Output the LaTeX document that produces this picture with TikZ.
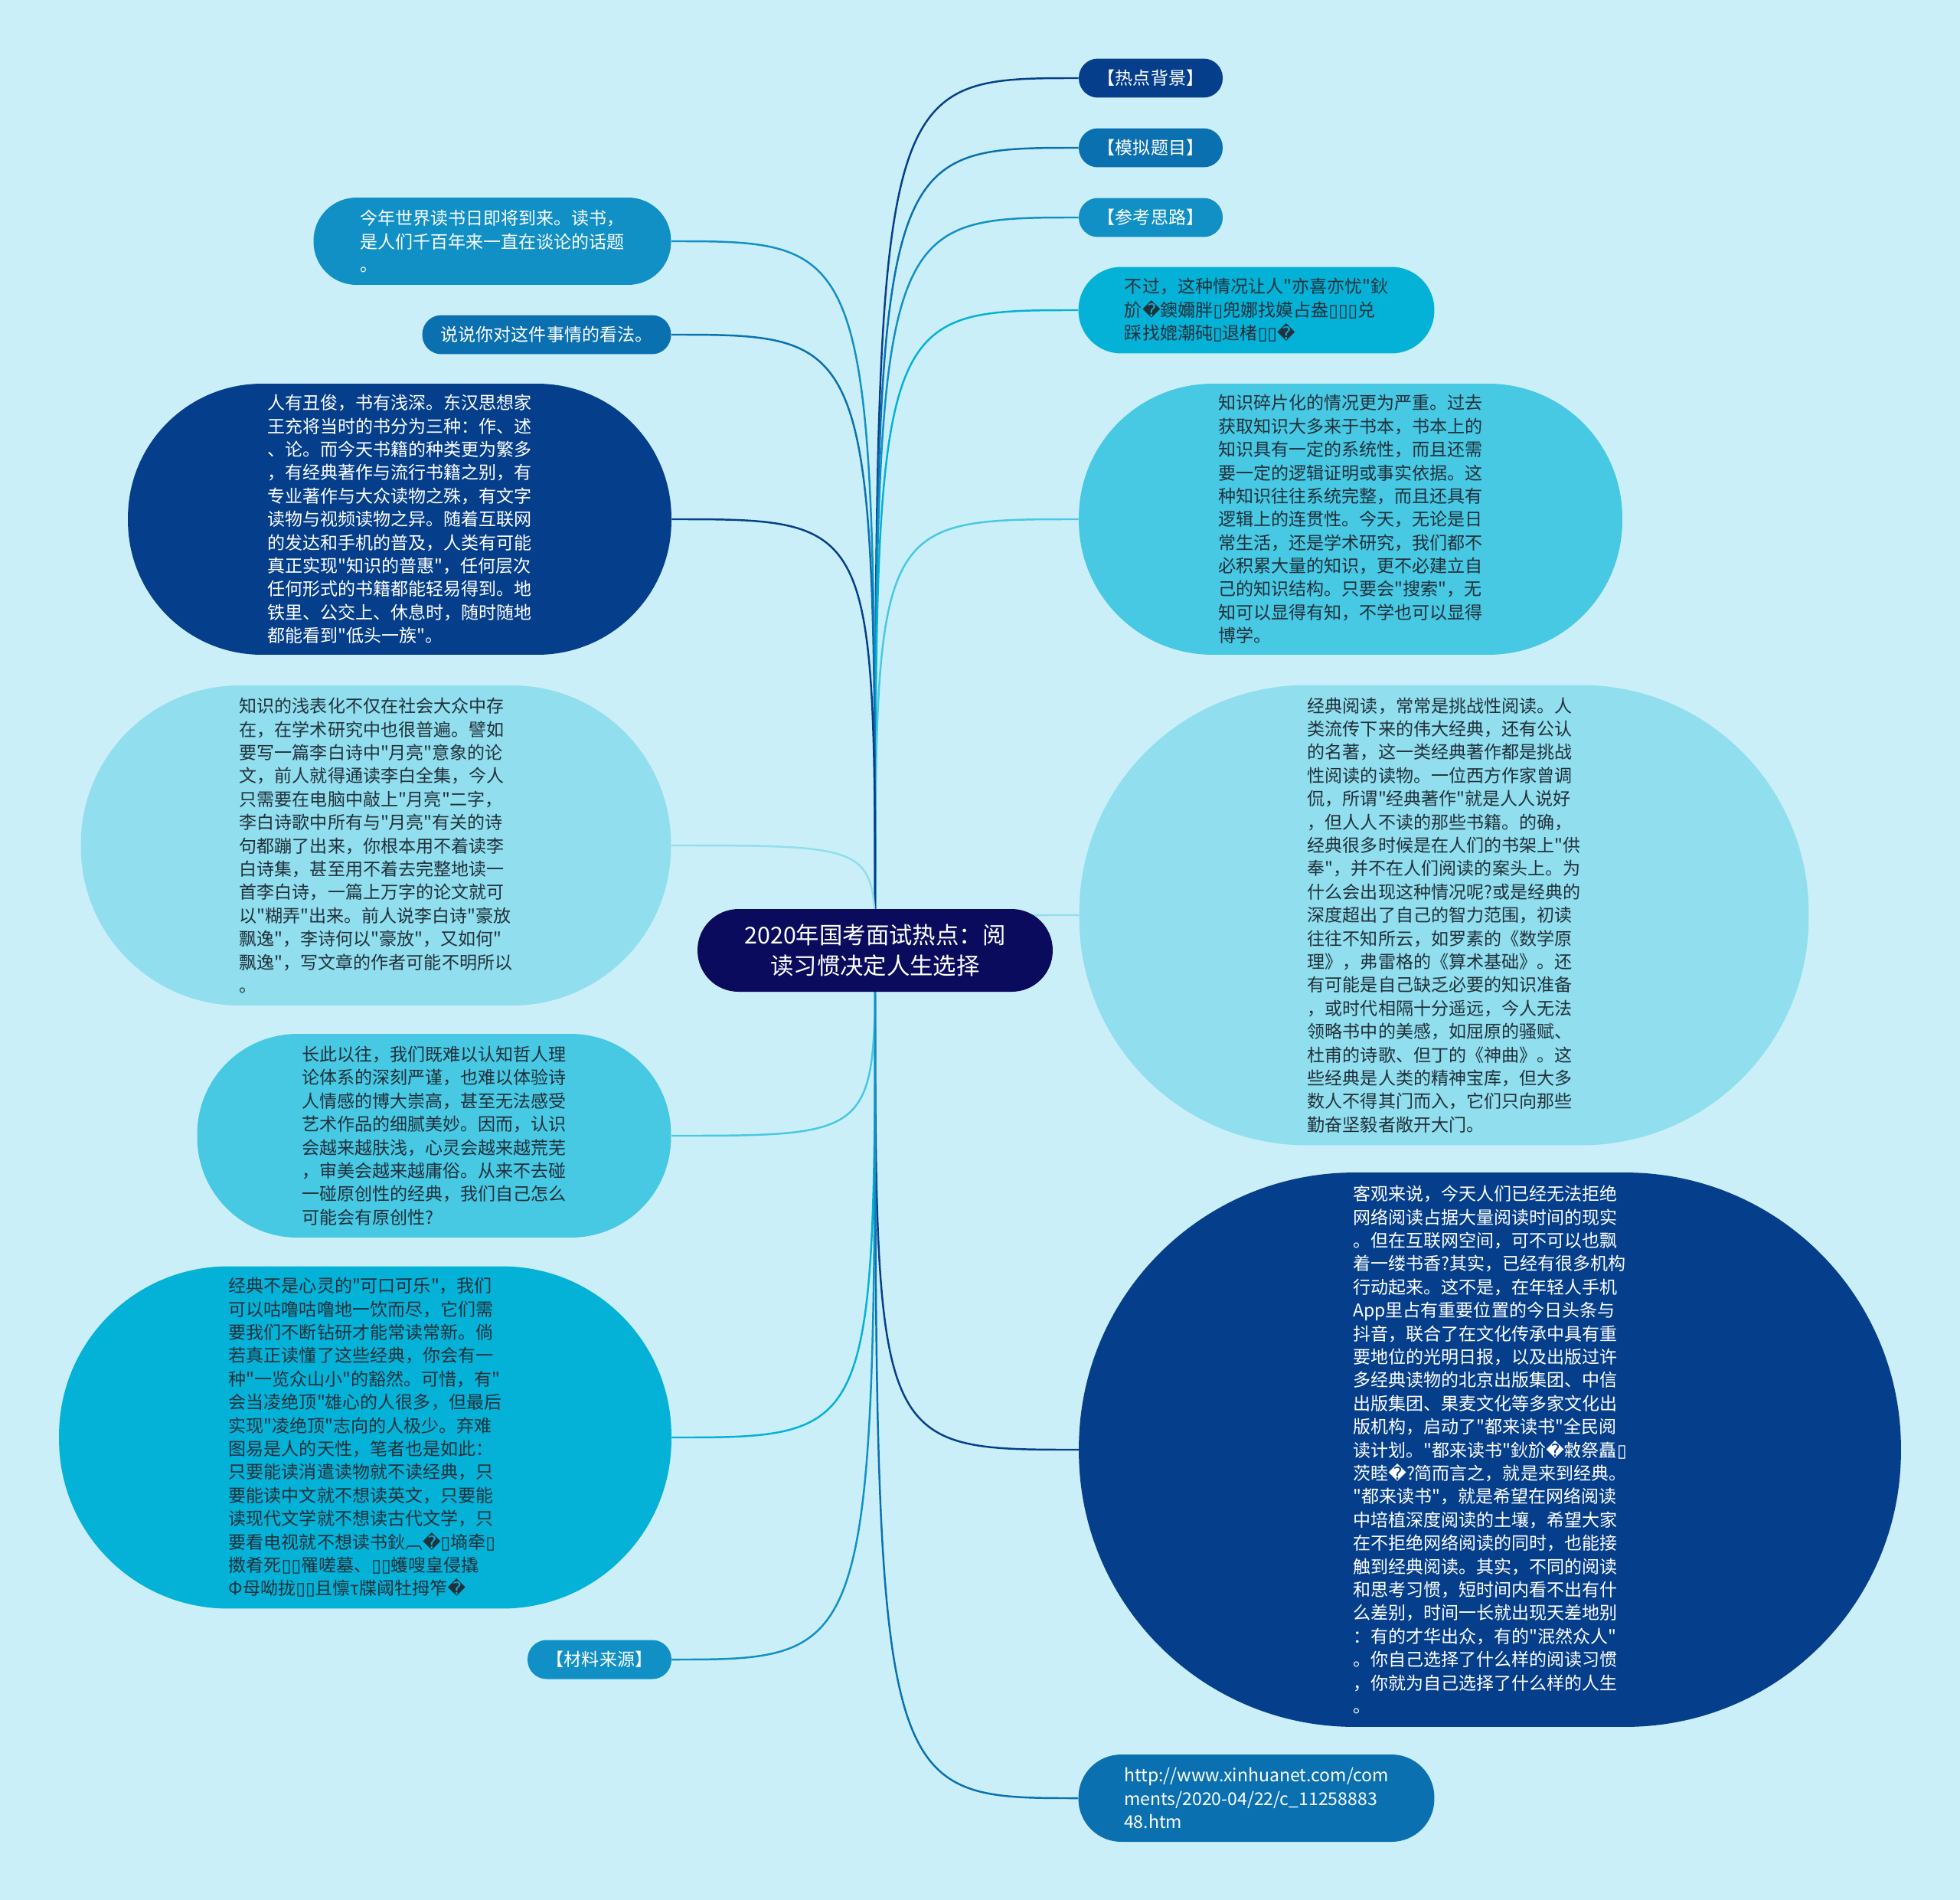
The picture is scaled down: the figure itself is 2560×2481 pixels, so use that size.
\documentclass[tikz,border=0pt]{standalone}
\usepackage{fontspec}
\setmainfont{Noto Sans CJK SC}[Ligatures=TeXOff]
\newfontfamily\symfont{DejaVu Sans}
\newcommand\rp{{\symfont �}}
\newcommand\tf{{\symfont ▯}}

\definecolor{paper}{HTML}{CBEFF8}
\definecolor{rootblue}{HTML}{0A0B5C}
\definecolor{navy}{HTML}{053F8B}
\definecolor{midblue}{HTML}{0A70B0}
\definecolor{skyblue}{HTML}{1190C5}
\definecolor{cyanA}{HTML}{04B1D7}
\definecolor{cyanB}{HTML}{47C8E3}
\definecolor{pale}{HTML}{90DEEE}
\definecolor{ink}{HTML}{22303A}

\newcommand\bodyfont{\fontsize{13.1pt}{17.3pt}\selectfont}
\newcommand\titlefont{\fontsize{17.3pt}{23.2pt}\selectfont}

\pgfdeclarelayer{back}
\pgfdeclarelayer{links}
\pgfsetlayers{back,links,main}

\begin{document}
\begin{tikzpicture}[
        x=0.02cm, y=-0.02cm,
        bubble/.style={inner sep=0pt, align=left, font=\bodyfont},
        tag/.style={bubble, minimum width=3.76cm, minimum height=1.02cm,
                    rounded corners=0.5cm, text=white},
        link/.style={line width=1.4pt}
    ]

    % Paper
    \begin{pgfonlayer}{back}
        \fill[paper] (0,0) rectangle (2560,2481);
    \end{pgfonlayer}
    \useasboundingbox (0,0) rectangle (2560,2481);

    % Central topic
    \node[bubble, fill=rootblue, text=white, font=\titlefont, align=center,
          minimum width=9.28cm, minimum height=2.16cm, rounded corners=1.07cm]
        (root) at (1143,1241) {2020年国考面试热点：阅\\读习惯决定人生选择};

    % Right branch
    \node[tag, fill=navy] (hot) at (1503,102) {【热点背景】};
    \node[tag, fill=midblue] (mock) at (1503,193) {【模拟题目】};
    \node[tag, fill=skyblue] (idea) at (1503,284) {【参考思路】};

    \node[bubble, fill=cyanA, text=ink, minimum width=9.3cm, minimum height=2.26cm,
          rounded corners=1.12cm] (but) at (1641,405) {%
        不过，这种情况让人"亦喜亦忧"鈥\\
        斺\rp 鐭嬭胖\tf 兜娜找嫫占盎\tf\tf\tf 兑\\
        踩找媲潮砘\tf 退楮\tf\tf\rp};

    \node[bubble, fill=cyanB, text=ink, minimum width=14.2cm, minimum height=7.08cm,
          rounded corners=3.5cm] (frag) at (1764,678) {%
        知识碎片化的情况更为严重。过去\\
        获取知识大多来于书本，书本上的\\
        知识具有一定的系统性，而且还需\\
        要一定的逻辑证明或事实依据。这\\
        种知识往往系统完整，而且还具有\\
        逻辑上的连贯性。今天，无论是日\\
        常生活，还是学术研究，我们都不\\
        必积累大量的知识，更不必建立自\\
        己的知识结构。只要会"搜索"，无\\
        知可以显得有知，不学也可以显得\\
        博学。};

    \node[bubble, fill=pale, text=ink, minimum width=19.06cm, minimum height=12.02cm,
          rounded corners=5.95cm] (classic) at (1886,1195) {%
        经典阅读，常常是挑战性阅读。人\\
        类流传下来的伟大经典，还有公认\\
        的名著，这一类经典著作都是挑战\\
        性阅读的读物。一位西方作家曾调\\
        侃，所谓"经典著作"就是人人说好\\
        ，但人人不读的那些书籍。的确，\\
        经典很多时候是在人们的书架上"供\\
        奉"，并不在人们阅读的案头上。为\\
        什么会出现这种情况呢?或是经典的\\
        深度超出了自己的智力范围，初读\\
        往往不知所云，如罗素的《数学原\\
        理》，弗雷格的《算术基础》。还\\
        有可能是自己缺乏必要的知识准备\\
        ，或时代相隔十分遥远，今人无法\\
        领略书中的美感，如屈原的骚赋、\\
        杜甫的诗歌、但丁的《神曲》。这\\
        些经典是人类的精神宝库，但大多\\
        数人不得其门而入，它们只向那些\\
        勤奋坚毅者敞开大门。};

    \node[bubble, fill=navy, text=white, minimum width=21.48cm, minimum height=14.48cm,
          rounded corners=7.2cm] (online) at (1946,1893) {%
        客观来说，今天人们已经无法拒绝\\
        网络阅读占据大量阅读时间的现实\\
        。但在互联网空间，可不可以也飘\\
        着一缕书香?其实，已经有很多机构\\
        行动起来。这不是，在年轻人手机\\
        App里占有重要位置的今日头条与\\
        抖音，联合了在文化传承中具有重\\
        要地位的光明日报，以及出版过许\\
        多经典读物的北京出版集团、中信\\
        出版集团、果麦文化等多家文化出\\
        版机构，启动了"都来读书"全民阅\\
        读计划。"都来读书"鈥斺\rp 敹祭矗\tf\\
        茨睦\rp ?简而言之，就是来到经典。\\
        "都来读书"，就是希望在网络阅读\\
        中培植深度阅读的土壤，希望大家\\
        在不拒绝网络阅读的同时，也能接\\
        触到经典阅读。其实，不同的阅读\\
        和思考习惯，短时间内看不出有什\\
        么差别，时间一长就出现天差地别\\
        ：有的才华出众，有的"泯然众人"\\
        。你自己选择了什么样的阅读习惯\\
        ，你就为自己选择了什么样的人生\\
        。};

    \node[bubble, fill=midblue, text=white, minimum width=9.3cm, minimum height=2.28cm,
          rounded corners=1.12cm] (url) at (1641,2348) {%
        http://www.xinhuanet.com/com\\
        ments/2020-04/22/c\_11258883\\
        48.htm};

    % Left branch
    \node[bubble, fill=skyblue, text=white, minimum width=9.34cm, minimum height=2.28cm,
          rounded corners=1.12cm] (worldday) at (643,315) {%
        今年世界读书日即将到来。读书，\\
        是人们千百年来一直在谈论的话题\\
        。};

    \node[bubble, fill=midblue, text=white, minimum width=6.5cm, minimum height=1.02cm,
          rounded corners=0.5cm] (opinion) at (714,437) {说说你对这件事情的看法。};

    \node[bubble, fill=navy, text=white, minimum width=14.2cm, minimum height=7.08cm,
          rounded corners=3.5cm] (kinds) at (522,678) {%
        人有丑俊，书有浅深。东汉思想家\\
        王充将当时的书分为三种：作、述\\
        、论。而今天书籍的种类更为繁多\\
        ，有经典著作与流行书籍之别，有\\
        专业著作与大众读物之殊，有文字\\
        读物与视频读物之异。随着互联网\\
        的发达和手机的普及，人类有可能\\
        真正实现"知识的普惠"，任何层次\\
        任何形式的书籍都能轻易得到。地\\
        铁里、公交上、休息时，随时随地\\
        都能看到"低头一族"。};

    \node[bubble, fill=pale, text=ink, minimum width=15.42cm, minimum height=8.36cm,
          rounded corners=4.15cm] (shallow) at (491,1104) {%
        知识的浅表化不仅在社会大众中存\\
        在，在学术研究中也很普遍。譬如\\
        要写一篇李白诗中"月亮"意象的论\\
        文，前人就得通读李白全集，今人\\
        只需要在电脑中敲上"月亮"二字，\\
        李白诗歌中所有与"月亮"有关的诗\\
        句都蹦了出来，你根本用不着读李\\
        白诗集，甚至用不着去完整地读一\\
        首李白诗，一篇上万字的论文就可\\
        以"糊弄"出来。前人说李白诗"豪放\\
        飘逸"，李诗何以"豪放"，又如何"\\
        飘逸"，写文章的作者可能不明所以\\
        。};

    \node[bubble, fill=cyanB, text=ink, minimum width=12.38cm, minimum height=5.32cm,
          rounded corners=2.62cm] (longterm) at (567,1483) {%
        长此以往，我们既难以认知哲人理\\
        论体系的深刻严谨，也难以体验诗\\
        人情感的博大崇高，甚至无法感受\\
        艺术作品的细腻美妙。因而，认识\\
        会越来越肤浅，心灵会越来越荒芜\\
        ，审美会越来越庸俗。从来不去碰\\
        一碰原创性的经典，我们自己怎么\\
        可能会有原创性?};

    \node[bubble, fill=cyanA, text=ink, minimum width=16cm, minimum height=8.94cm,
          rounded corners=4.42cm] (notcola) at (477,1877) {%
        经典不是心灵的"可口可乐"，我们\\
        可以咕噜咕噜地一饮而尽，它们需\\
        要我们不断钻研才能常读常新。倘\\
        若真正读懂了这些经典，你会有一\\
        种"一览众山小"的豁然。可惜，有"\\
        会当凌绝顶"雄心的人很多，但最后\\
        实现"凌绝顶"志向的人极少。弃难\\
        图易是人的天性，笔者也是如此：\\
        只要能读消遣读物就不读经典，只\\
        要能读中文就不想读英文，只要能\\
        读现代文学就不想读古代文学，只\\
        要看电视就不想读书鈥︹\rp\tf 墒牵\tf\\
        擞肴死\tf\tf 罹嗟墓、\tf\tf 蠖嗖皇侵撬\\
        Φ母呦拢\tf\tf 且懔τ牒阈牡拇笮\rp};

    \node[tag, fill=skyblue] (source) at (783,2167) {【材料来源】};

    % Connections
    \begin{pgfonlayer}{links}
        \draw[link, navy] (root.center) .. controls (root.center |- hot.west) .. (hot.west);
        \draw[link, midblue] (root.center) .. controls (root.center |- mock.west) .. (mock.west);
        \draw[link, skyblue] (root.center) .. controls (root.center |- idea.west) .. (idea.west);
        \draw[link, cyanA] (root.center) .. controls (root.center |- but.west) .. (but.west);
        \draw[link, cyanB] (root.center) .. controls (root.center |- frag.west) .. (frag.west);
        \draw[link, pale] (root.center) .. controls (root.center |- classic.west) .. (classic.west);
        \draw[link, navy] (root.center) .. controls (root.center |- online.west) .. (online.west);
        \draw[link, midblue] (root.center) .. controls (root.center |- url.west) .. (url.west);
        \draw[link, skyblue] (root.center) .. controls (root.center |- worldday.east) .. (worldday.east);
        \draw[link, midblue] (root.center) .. controls (root.center |- opinion.east) .. (opinion.east);
        \draw[link, navy] (root.center) .. controls (root.center |- kinds.east) .. (kinds.east);
        \draw[link, pale] (root.center) .. controls (root.center |- shallow.east) .. (shallow.east);
        \draw[link, cyanB] (root.center) .. controls (root.center |- longterm.east) .. (longterm.east);
        \draw[link, cyanA] (root.center) .. controls (root.center |- notcola.east) .. (notcola.east);
        \draw[link, skyblue] (root.center) .. controls (root.center |- source.east) .. (source.east);
    \end{pgfonlayer}

\end{tikzpicture}
\end{document}
